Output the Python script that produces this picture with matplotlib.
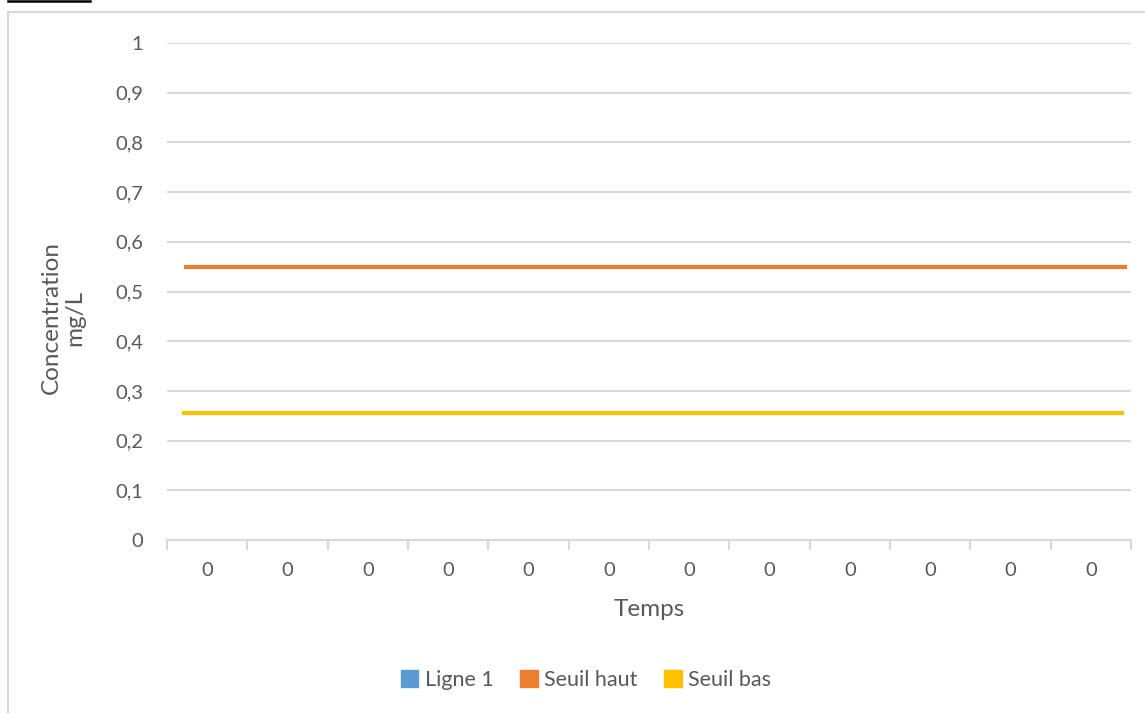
import matplotlib
matplotlib.use('Agg')
import matplotlib.pyplot as plt
import matplotlib.patches as mpatches
from matplotlib.lines import Line2D

# data
categories = ['0', '0', '0', '0', '0', '0', '0', '0', '0', '0', '0', '0']
ligne1 = []                       # empty series, only shown in the legend
temps_haut = [0.21, 11.95]        # position along the 12 categories
seuil_haut = [0.55, 0.55]
temps_bas = [0.19, 11.91]
seuil_bas = [0.255, 0.255]
yticks = [0, 0.1, 0.2, 0.3, 0.4, 0.5, 0.6, 0.7, 0.8, 0.9, 1]

blue = '#5B9BD5'
orange = '#ED7D31'
yellow = '#FFC000'
grid = '#D9D9D9'
txt = '#595959'

plt.rcParams['font.family'] = ['Lato', 'DejaVu Sans']

fig = plt.figure(figsize=(11.45, 7.13), dpi=100)
ax = fig.add_axes([167/1145, 1-540/713, (1131-167)/1145, (540-43)/713])

ax.plot(temps_haut, seuil_haut, color=orange, lw=3, solid_capstyle='butt', zorder=3)
ax.plot(temps_bas, seuil_bas, color=yellow, lw=3, solid_capstyle='butt', zorder=3)

ax.set_xlim(0, len(categories))
ax.set_ylim(0, 1)

# y axis
ax.set_yticks(yticks)
ax.set_yticklabels([('%g' % v).replace('.', ',') for v in yticks])
ax.tick_params(axis='y', length=0, pad=17, labelsize=14.5, labelcolor=txt)
ax.yaxis.grid(True, color=grid, lw=1.5)
ax.set_axisbelow(True)

# x axis: tick marks between categories, labels at centres
ax.set_xticks(range(len(categories) + 1))
ax.set_xticklabels([])
ax.tick_params(axis='x', which='major', length=7, width=1.5, color=grid, direction='out')
ax.set_xticks([i + 0.5 for i in range(len(categories))], minor=True)
ax.set_xticklabels(categories, minor=True)
ax.tick_params(axis='x', which='minor', length=0, pad=16, labelsize=14.5, labelcolor=txt)

for s in ['top', 'right', 'left']:
    ax.spines[s].set_visible(False)
ax.spines['bottom'].set_color(grid)
ax.spines['bottom'].set_linewidth(1.5)

fig.text(649/1145, 1-610/713, 'Temps', ha='center', va='center', fontsize=17.5, color=txt)
fig.text(63/1145, 1-318/713, 'Concentration\nmg/L', ha='center', va='center',
         rotation=90, multialignment='center', fontsize=17.5, color=txt, linespacing=1.1)

handles = [mpatches.Patch(color=blue, label='Ligne 1'),
           mpatches.Patch(color=orange, label='Seuil haut'),
           mpatches.Patch(color=yellow, label='Seuil bas')]
leg = fig.legend(handles=handles, loc='center', bbox_to_anchor=(586/1145, 1-680/713), ncol=3,
                 frameon=False, fontsize=15.5, handlelength=0.8, handleheight=0.8,
                 handletextpad=0.3, columnspacing=1.25)
for t in leg.get_texts():
    t.set_color(txt)

# chart area border and the cut-off line above it
fig.add_artist(mpatches.Rectangle((8/1145, -0.1), 1.2, 1.1 - 12/713, transform=fig.transFigure,
                                  fill=False, edgecolor=grid, lw=1.5, clip_on=False))
fig.add_artist(Line2D([8/1145, 90/1145], [1-1/713, 1-1/713], transform=fig.transFigure,
                      color='black', lw=1.8))

fig.savefig('out.png', dpi=100)
